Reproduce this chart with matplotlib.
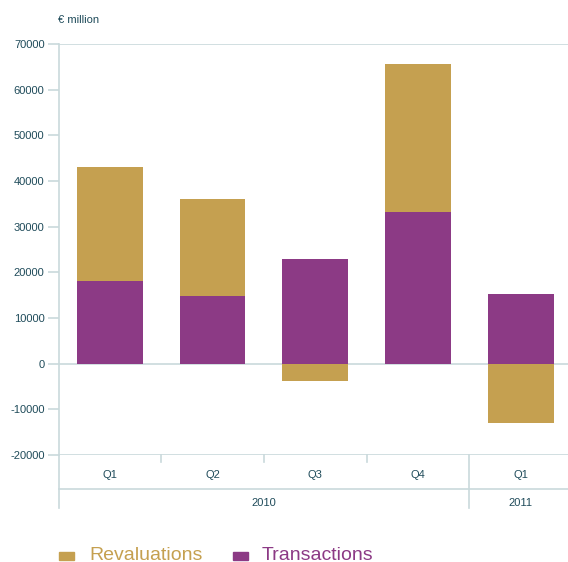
import matplotlib
matplotlib.use("Agg")
import matplotlib.pyplot as plt
from matplotlib.patches import Rectangle
from matplotlib.lines import Line2D

quarters = ["Q1", "Q2", "Q3", "Q4", "Q1"]
years = ["2010", "2011"]
transactions = [18000, 14900, 23000, 33300, 15300]
revaluations = [25100, 21200, -3900, 32400, -12900]
yticks = [-20000, -10000, 0, 10000, 20000, 30000, 40000, 50000, 60000, 70000]

gold = "#c5a050"
purple = "#8c3a85"
grid = "#c9d9dc"
txt = "#1f4b5a"
plt.rcParams['font.family'] = ['Liberation Sans', 'DejaVu Sans']

W, H = 568, 562
fig = plt.figure(figsize=(W/100, H/100), dpi=100)
ax = fig.add_axes([58.5/W, 1-455/H, (568-58.5)/W, 411/H])

x = list(range(len(quarters)))
ax.bar(x, transactions, width=0.64, color=purple, zorder=2)
rev_bottom = [t if r > 0 else 0 for t, r in zip(transactions, revaluations)]
ax.bar(x, revaluations, bottom=rev_bottom, width=0.64, color=gold, zorder=2)

ax.set_xlim(-0.5, 4.46)
ax.set_ylim(-20000, 70000)
for s in ["top", "right", "bottom"]:
    ax.spines[s].set_visible(False)
ax.spines["left"].set_color(grid)
ax.spines["left"].set_linewidth(1.2)
ax.set_yticks(yticks)
ax.set_yticklabels([str(v) for v in yticks])
ax.tick_params(axis="y", colors=grid, length=8, width=1.2, labelcolor=txt, labelsize=8, pad=2)
ax.set_xticks([])
for v in [70000, 0, -20000]:
    ax.axhline(v, color=grid, lw=1.2, zorder=1)

tr = ax.get_xaxis_transform()
# quarter separators
for b in [0.5, 1.5, 2.5]:
    ax.add_line(Line2D([b, b], [0, -0.018], transform=tr, color=grid, lw=1.2, clip_on=False))
ax.add_line(Line2D([3.5, 3.5], [0, -0.129], transform=tr, color=grid, lw=1.2, clip_on=False))
ax.add_line(Line2D([-0.5, -0.5], [0, -0.129], transform=tr, color=grid, lw=1.2, clip_on=False))
ax.add_line(Line2D([-0.5, 4.46], [-0.0827, -0.0827], transform=tr, color=grid, lw=1.2, clip_on=False))
for i, q in enumerate(quarters):
    ax.text(i, -0.0487, q, transform=tr, ha="center", va="center", color=txt, fontsize=8)
ax.text(1.5, -0.117, years[0], transform=tr, ha="center", va="center", color=txt, fontsize=8)
ax.text(4.0, -0.117, years[1], transform=tr, ha="center", va="center", color=txt, fontsize=8)

fig.text(58/W, 1-20/H, "€ million", ha="left", va="center", color=txt, fontsize=8)

# legend
fig.patches.append(Rectangle((59/W, 1-560/H), 15/W, 8/H, transform=fig.transFigure, color=gold))
fig.text(89/W, 1-555/H, "Revaluations", color=gold, fontsize=14, ha="left", va="center")
fig.patches.append(Rectangle((233/W, 1-560/H), 15/W, 8/H, transform=fig.transFigure, color=purple))
fig.text(262/W, 1-555/H, "Transactions", color=purple, fontsize=14, ha="left", va="center")

fig.savefig("out.png", dpi=100)
